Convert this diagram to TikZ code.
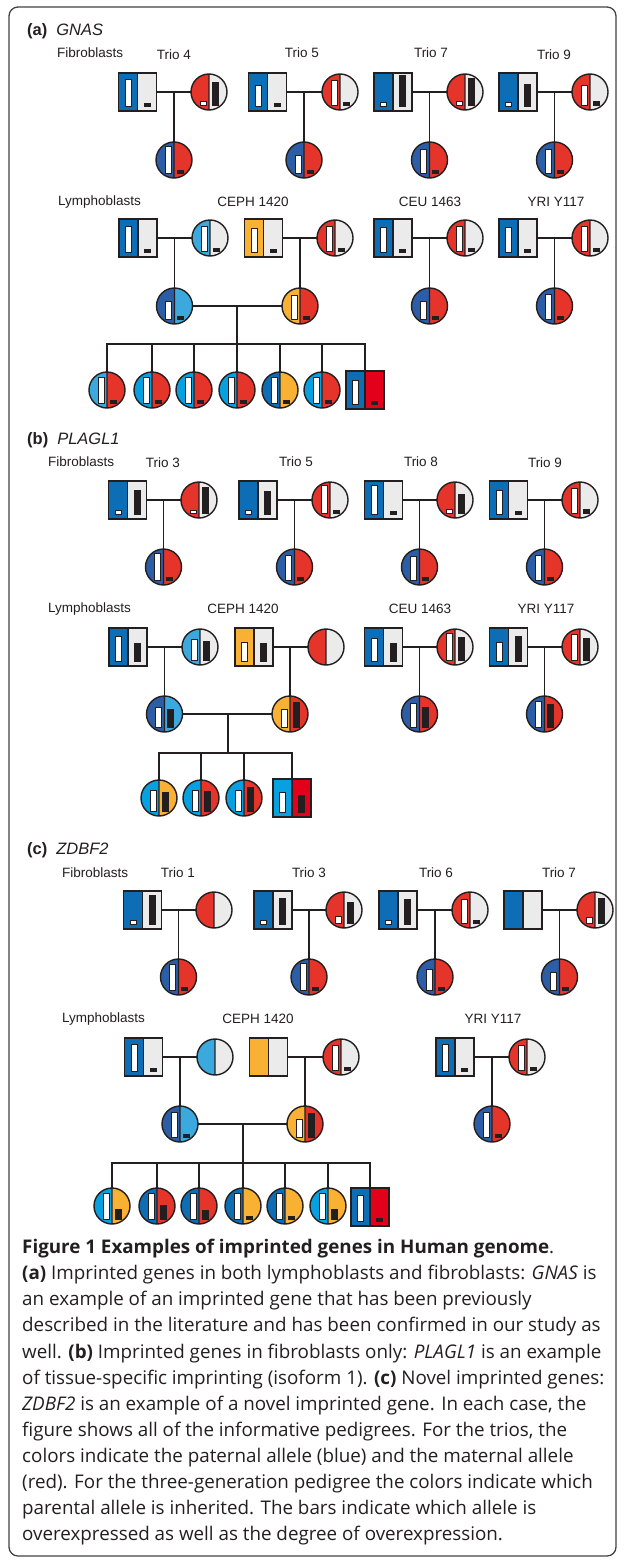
\documentclass[tikz,border=0pt]{standalone}
\usepackage{fontspec}
\setmainfont{Liberation Sans}
\newfontfamily\capfont{Open Sans}
\usetikzlibrary{calc}

\definecolor{ink}{HTML}{231F20}
\definecolor{pblue}{HTML}{0E6EB5}
\definecolor{cblue}{HTML}{2C5EA8}
\definecolor{lblue}{HTML}{3BA9DD}
\definecolor{cyanb}{HTML}{07A0E0}
\definecolor{mred}{HTML}{E5352B}
\definecolor{dred}{HTML}{E2001A}
\definecolor{yel}{HTML}{F8B133}
\definecolor{lgrey}{HTML}{EBEBEB}

\tikzset{
  ln/.style={line width=1.6pt, draw=ink},
  outl/.style={line width=1.4pt, draw=ink},
  wbar/.style={fill=white, draw=ink, line width=0.8pt},
  bbar/.style={fill=ink},
  msq/.style={rectangle, minimum width=38pt, minimum height=38pt, inner sep=0pt, outer sep=0pt},
  fci/.style={circle, minimum size=36pt, inner sep=0pt, outer sep=0pt},
  lab/.style={font=\fontsize{13.5}{16}\selectfont, text=ink, inner sep=0pt},
  head/.style={font=\fontsize{16.5}{20}\selectfont, text=ink, inner sep=0pt},
  frame/.style={line width=1.3pt, draw=ink!85, rounded corners=9pt},
}

% male symbol: name, x, y, left colour, right colour, white bar, black bar
\newcommand\Msym[7]{%
  \node[msq] (#1) at (#2,#3) {};
  \begin{scope}[shift={(#2,#3)}]
    \fill[#4] (-19,-19) rectangle (0,19);
    \fill[#5] (0,-19) rectangle (19,19);
    \ifnum#6>0 \draw[wbar] (-12.5,14.5) rectangle ++(6,-#6);\fi
    \ifnum#7>0 \fill[bbar] (6,14.5) rectangle ++(7,-#7);\fi
    \draw[outl] (-19,-19) rectangle (19,19) (0,-19) -- (0,19);
  \end{scope}}

% female symbol: name, x, y, left colour, right colour, white bar, black bar
\newcommand\Fsym[7]{%
  \node[fci] (#1) at (#2,#3) {};
  \begin{scope}[shift={(#2,#3)}]
    \begin{scope}
      \clip (0,0) circle[radius=18pt];
      \fill[#4] (-19,-19) rectangle (0,19);
      \fill[#5] (0,-19) rectangle (19,19);
    \end{scope}
    \ifnum#6>0 \draw[wbar] (-9,13.5) rectangle ++(6,-#6);\fi
    \ifnum#7>0 \fill[bbar] (2.5,13.5) rectangle ++(7,-#7);\fi
    \draw[outl] (0,0) circle[radius=18pt] (0,-18) -- (0,18);
  \end{scope}}

% parents joined, child hanging from the marriage line
\newcommand\trio[3]{%
  \draw[ln] (#1.east) -- (#2.west);
  \draw[ln] (#3.north) -- (#3.north |- #1.east);}

\begin{document}
\begin{tikzpicture}[x=1pt, y=-1pt]
\useasboundingbox (0,0) rectangle (625,1563);
\fill[white] (0,0) rectangle (625,1563);
\draw[frame] (9,7) rectangle (616,1556);

% ================= (a) GNAS =================
\node[head, anchor=west] (ha) at (27,31) {\textbf{(a)}\hspace{9pt}\textit{GNAS}};
\node[lab, anchor=west] (haf) at (57,53) {Fibroblasts};
\node[lab] (lt4) at (174,55) {Trio 4};
\node[lab] (lt5) at (302,53) {Trio 5};
\node[lab] (lt7) at (431,53) {Trio 7};
\node[lab] (lt9) at (554,55) {Trio 9};

\Msym{aF4}{137.5}{92}{pblue}{lgrey}{27}{4}
\Fsym{aM4}{209}{92}{mred}{lgrey}{4}{24}
\Fsym{aC4}{174}{160}{cblue}{mred}{27}{4}
\trio{aF4}{aM4}{aC4}

\Msym{aF5}{267.5}{92}{pblue}{lgrey}{21}{4}
\Fsym{aM5}{340}{92}{mred}{lgrey}{25}{4}
\Fsym{aC5}{304}{160}{cblue}{mred}{18}{4}
\trio{aF5}{aM5}{aC5}

\Msym{aF7}{393}{92}{pblue}{lgrey}{4}{31}
\Fsym{aM7}{465}{92}{mred}{lgrey}{4}{28}
\Fsym{aC7}{429.5}{160}{cblue}{mred}{24}{4}
\trio{aF7}{aM7}{aC7}

\Msym{aF9}{518}{92}{pblue}{lgrey}{4}{23}
\Fsym{aM9}{590}{92}{mred}{lgrey}{20}{5}
\Fsym{aC9}{554.5}{160}{cblue}{mred}{24}{4}
\trio{aF9}{aM9}{aC9}

\node[lab, anchor=west] (hal) at (58,202) {Lymphoblasts};
\node[lab] (lacp) at (253,202) {CEPH 1420};
\node[lab] (lace) at (430,202) {CEU 1463};
\node[lab] (layr) at (556,202) {YRI Y117};

\Msym{aF1}{138}{238}{pblue}{lgrey}{26}{4}
\Fsym{aM1}{210}{238}{lblue}{lgrey}{25}{4}
\Msym{aF2}{263.5}{238}{yel}{lgrey}{24}{4}
\Fsym{aM2}{335}{238}{mred}{lgrey}{25}{4}
\Fsym{aC1}{174.5}{306}{cblue}{lblue}{18}{4}
\Fsym{aC2}{300}{306}{yel}{mred}{24}{4}
\trio{aF1}{aM1}{aC1}
\trio{aF2}{aM2}{aC2}
\Fsym{aG1}{107}{390}{lblue}{mred}{26}{4}
\Fsym{aG2}{152}{390}{cyanb}{mred}{26}{4}
\Fsym{aG3}{194}{390}{cyanb}{mred}{26}{4}
\Fsym{aG4}{237}{390}{cyanb}{mred}{26}{4}
\Fsym{aG5}{280}{390}{pblue}{yel}{26}{4}
\Fsym{aG6}{322}{390}{cyanb}{mred}{26}{4}
\Msym{aG7}{365}{390}{pblue}{dred}{24}{4}
\draw[ln] (aC1.east) -- (aC2.west);
\coordinate (aJ) at (237,344);
\draw[ln] (aJ) -- (aJ |- aC1.east);
\draw[ln] (aG1.north) |- (aJ) -| (aG7.north);
\foreach \g in {aG2,aG3,aG4,aG5,aG6} \draw[ln] (\g.north) -- (\g.north |- aJ);

\Msym{aF3}{393}{238}{pblue}{lgrey}{25}{4}
\Fsym{aM3}{465}{238}{mred}{lgrey}{25}{4}
\Fsym{aC3}{429.5}{306}{cblue}{mred}{18}{4}
\trio{aF3}{aM3}{aC3}

\Msym{aF6}{518}{238}{pblue}{lgrey}{25}{4}
\Fsym{aM6}{590}{238}{mred}{lgrey}{25}{4}
\Fsym{aC6}{554.5}{306}{cblue}{mred}{25}{4}
\trio{aF6}{aM6}{aC6}

% ================= (b) PLAGL1 =================
\node[head, anchor=west] (hb) at (27,440) {\textbf{(b)}\hspace{9pt}\textit{PLAGL1}};
\node[lab, anchor=west] (hbf) at (48,462) {Fibroblasts};
\node[lab] (lb3) at (163,463) {Trio 3};
\node[lab] (lb5) at (296,462) {Trio 5};
\node[lab] (lb8) at (421,462) {Trio 8};
\node[lab] (lb9) at (545,463) {Trio 9};

\Msym{bF3}{127.5}{500}{pblue}{lgrey}{4}{25}
\Fsym{bM3}{199}{500}{mred}{lgrey}{3}{27}
\Fsym{bC3}{163.5}{567}{cblue}{mred}{27}{4}
\trio{bF3}{bM3}{bC3}

\Msym{bF5}{258}{500}{pblue}{lgrey}{4}{24}
\Fsym{bM5}{330}{500}{mred}{lgrey}{28}{4}
\Fsym{bC5}{294.5}{567}{cblue}{mred}{25}{4}
\trio{bF5}{bM5}{bC5}

\Msym{bF8}{383.5}{500}{pblue}{lgrey}{29}{4}
\Fsym{bM8}{455}{500}{mred}{lgrey}{4}{20}
\Fsym{bC8}{419.5}{567}{cblue}{mred}{24}{4}
\trio{bF8}{bM8}{bC8}

\Msym{bF9}{508.5}{500}{pblue}{lgrey}{24}{4}
\Fsym{bM9}{580}{500}{mred}{lgrey}{25}{5}
\Fsym{bC9}{544.5}{567}{cblue}{mred}{25}{4}
\trio{bF9}{bM9}{bC9}

\node[lab, anchor=west] (hbl) at (48,609) {Lymphoblasts};
\node[lab] (lbcp) at (243,609) {CEPH 1420};
\node[lab] (lbce) at (420,609) {CEU 1463};
\node[lab] (lbyr) at (546,609) {YRI Y117};

\Msym{bF1}{128}{647}{pblue}{lgrey}{25}{19}
\Fsym{bM1}{200}{647}{lblue}{lgrey}{21}{20}
\Msym{bF2}{254}{647}{yel}{lgrey}{19}{19}
\Fsym{bM2}{326}{647}{mred}{lgrey}{0}{0}
\Fsym{bC1}{164.5}{714}{cblue}{lblue}{20}{19}
\Fsym{bC2}{290}{714}{yel}{mred}{18}{26}
\trio{bF1}{bM1}{bC1}
\trio{bF2}{bM2}{bC2}
\Fsym{bG1}{159}{798}{cyanb}{yel}{21}{20}
\Fsym{bG2}{201}{798}{cyanb}{mred}{21}{21}
\Fsym{bG3}{244}{798}{cyanb}{mred}{21}{25}
\Msym{bG4}{292}{798}{cyanb}{dred}{20}{18}
\draw[ln] (bC1.east) -- (bC2.west);
\coordinate (bJ) at (228,753);
\draw[ln] (bJ) -- (bJ |- bC1.east);
\draw[ln] (bG1.north) |- (bJ) -| (bG4.north);
\foreach \g in {bG2,bG3} \draw[ln] (\g.north) -- (\g.north |- bJ);

\Msym{bF6}{383.5}{647}{pblue}{lgrey}{23}{19}
\Fsym{bM6}{455}{647}{mred}{lgrey}{27}{24}
\Fsym{bC6}{419.5}{714}{cblue}{mred}{24}{21}
\trio{bF6}{bM6}{bC6}

\Msym{bF7}{508.5}{647}{pblue}{lgrey}{19}{26}
\Fsym{bM7}{580}{647}{mred}{lgrey}{26}{23}
\Fsym{bC7}{544.5}{714}{cblue}{mred}{26}{24}
\trio{bF7}{bM7}{bC7}

% ================= (c) ZDBF2 =================
\node[head, anchor=west] (hc) at (27,850) {\textbf{(c)}\hspace{9pt}\textit{ZDBF2}};
\node[lab, anchor=west] (hcf) at (62,873) {Fibroblasts};
\node[lab] (lc1) at (178,873) {Trio 1};
\node[lab] (lc3) at (309,873) {Trio 3};
\node[lab] (lc6) at (436,873) {Trio 6};
\node[lab] (lc7) at (559,873) {Trio 7};

\Msym{cF1}{142.5}{910}{pblue}{lgrey}{4}{30}
\Fsym{cM1}{214}{910}{mred}{lgrey}{0}{0}
\Fsym{cC1}{178.5}{977}{cblue}{mred}{26}{4}
\trio{cF1}{cM1}{cC1}

\Msym{cF3}{273}{910}{pblue}{lgrey}{4}{27}
\Fsym{cM3}{344}{910}{mred}{lgrey}{7}{22}
\Fsym{cC3}{309}{977}{cblue}{mred}{27}{4}
\trio{cF3}{cM3}{cC3}

\Msym{cF6}{398}{910}{pblue}{lgrey}{4}{26}
\Fsym{cM6}{470}{910}{mred}{lgrey}{24}{4}
\Fsym{cC6}{435}{977}{cblue}{mred}{21}{4}
\trio{cF6}{cM6}{cC6}

\Msym{cF7}{523}{910}{pblue}{lgrey}{0}{0}
\Fsym{cM7}{595}{910}{mred}{lgrey}{6}{26}
\Fsym{cC7}{559.5}{977}{cblue}{mred}{18}{4}
\trio{cF7}{cM7}{cC7}

\node[lab, anchor=west] (hcl) at (62,1019) {Lymphoblasts};
\node[lab] (lccp) at (258,1019) {CEPH 1420};
\node[lab] (lcyr) at (493,1019) {YRI Y117};

\Msym{cPF1}{143.5}{1057}{pblue}{lgrey}{27}{4}
\Fsym{cPM1}{215}{1057}{lblue}{lgrey}{0}{0}
\Msym{cPF2}{268.5}{1057}{yel}{lgrey}{0}{0}
\Fsym{cPM2}{341}{1057}{mred}{lgrey}{25}{4}
\Fsym{cPC1}{180}{1124}{cblue}{lblue}{25}{4}
\Fsym{cPC2}{305}{1124}{yel}{mred}{18}{25}
\trio{cPF1}{cPM1}{cPC1}
\trio{cPF2}{cPM2}{cPC2}
\Fsym{cG1}{112}{1206}{cyanb}{yel}{26}{11}
\Fsym{cG2}{157}{1206}{pblue}{mred}{26}{15}
\Fsym{cG3}{199}{1206}{pblue}{mred}{26}{10}
\Fsym{cG4}{243}{1206}{pblue}{yel}{26}{4}
\Fsym{cG5}{285}{1206}{pblue}{yel}{26}{4}
\Fsym{cG6}{328}{1206}{cyanb}{yel}{26}{11}
\Msym{cG7}{370}{1207}{pblue}{dred}{26}{4}
\draw[ln] (cPC1.east) -- (cPC2.west);
\coordinate (cJ) at (243,1163);
\draw[ln] (cJ) -- (cJ |- cPC1.east);
\draw[ln] (cG1.north) |- (cJ) -| (cG7.north);
\foreach \g in {cG2,cG3,cG4,cG5,cG6} \draw[ln] (\g.north) -- (\g.north |- cJ);

\Msym{cYF}{455}{1057}{pblue}{lgrey}{27}{4}
\Fsym{cYM}{527}{1057}{mred}{lgrey}{25}{4}
\Fsym{cYC}{492}{1124}{cblue}{mred}{25}{4}
\trio{cYF}{cYM}{cYC}

% ================= caption =================
\node[anchor=north west, inner sep=0pt, align=left, text=ink,
      font=\capfont\fontsize{18.8}{26.1}\selectfont] (cap) at (22,1239) {%
\textbf{Figure 1 Examples of imprinted genes in Human genome}.\\
\textbf{(a)} Imprinted genes in both lymphoblasts and fibroblasts: \textit{GNAS} is\\
an example of an imprinted gene that has been previously\\
described in the literature and has been confirmed in our study as\\
well. \textbf{(b)} Imprinted genes in fibroblasts only: \textit{PLAGL1} is an example\\
of tissue-specific imprinting (isoform 1). \textbf{(c)} Novel imprinted genes:\\
\textit{ZDBF2} is an example of a novel imprinted gene. In each case, the\\
figure shows all of the informative pedigrees. For the trios, the\\
colors indicate the paternal allele (blue) and the maternal allele\\
(red). For the three-generation pedigree the colors indicate which\\
parental allele is inherited. The bars indicate which allele is\\
overexpressed as well as the degree of overexpression.};
\end{tikzpicture}
\end{document}
